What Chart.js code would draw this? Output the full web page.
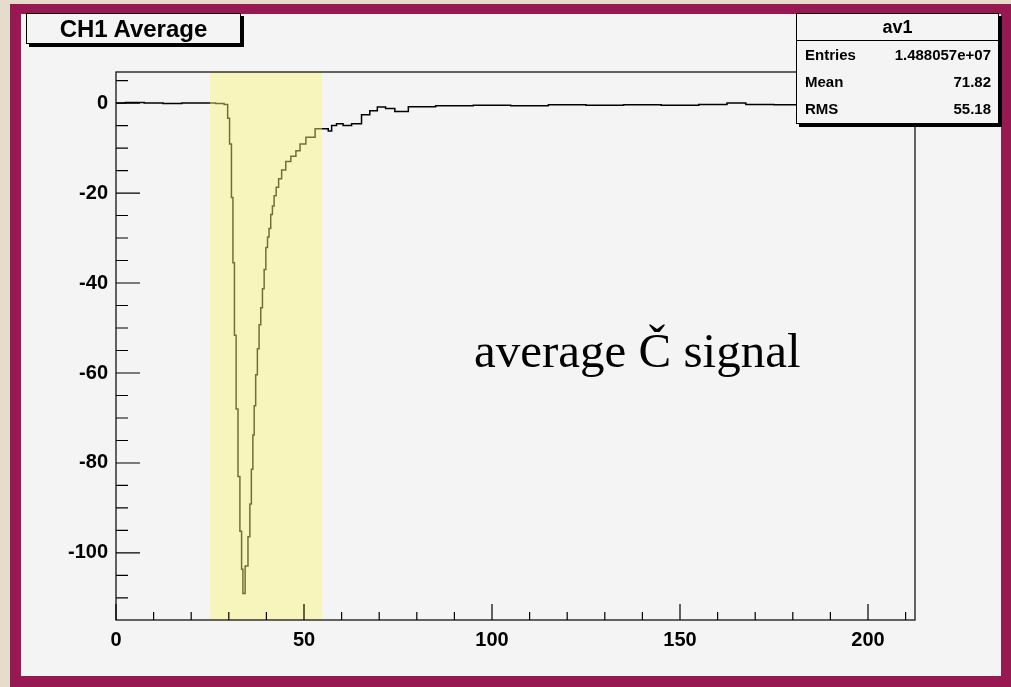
<!DOCTYPE html>
<html>
<head>
<meta charset="utf-8">
<script src="https://cdn.jsdelivr.net/npm/chart.js@4.4.1/dist/chart.umd.min.js"></script>
<style>
  html, body { margin: 0; padding: 0; }
  body { width: 1011px; height: 687px; position: relative; overflow: hidden;
         background: #e6dccb; font-family: "Liberation Sans", Arial, sans-serif; }
  #frame { position: absolute; left: 10px; top: 4px; width: 1001px; height: 683px; background: #981852; }
  #pad { position: absolute; left: 21px; top: 14px; width: 980px; height: 662px; background: #f4f4f4; }
  #wrap { position: absolute; left: 0; top: 0; width: 1011px; height: 687px; }
  .box { position: absolute; background: #f4f4f4; border: 1px solid #000; box-shadow: 3px 3px 0 #000; }
  #title { left: 26px; top: 13px; width: 213px; height: 29px; font-weight: bold; font-size: 24px;
           line-height: 29px; text-align: center; }
  #stats { left: 796px; top: 13px; width: 201px; height: 109px; font-weight: bold; font-size: 15px; }
  #stats .hd { height: 26px; line-height: 26px; text-align: center; font-size: 18px; border-bottom: 1px solid #000; }
  #stats .row { height: 27px; line-height: 27px; padding: 0 7px 0 8px; display: flex; justify-content: space-between; }
  #note { position: absolute; left: 474px; top: 322px; font-family: "Liberation Serif", serif; font-size: 49px; }
</style>
</head>
<body>
<div id="frame"></div>
<div id="pad"></div>
<div id="wrap"><canvas id="c" width="1011" height="687"></canvas></div>
<div class="box" id="title">CH1 Average</div>
<div class="box" id="stats">
  <div class="hd">av1</div>
  <div class="row"><span>Entries</span><span>1.488057e+07</span></div>
  <div class="row"><span>Mean</span><span>71.82</span></div>
  <div class="row"><span>RMS</span><span>55.18</span></div>
</div>
<div id="note">average Č signal</div>
<script>
// signal (x in time bins, y in ADC counts)
const xs = [0, 5, 10, 15, 20, 25, 28, 29.5, 29.9, 30.5, 30.9, 31.3, 31.7, 32.2, 32.7, 33.2, 33.6, 33.9,
  34.8, 35.4, 35.8, 36.2, 36.6, 36.9, 37.4, 37.8, 38.3, 38.7, 39.2, 39.6, 40.1, 40.5, 40.9, 41.4, 41.8,
  42.3, 42.9, 43.6, 44.5, 45.8, 47.2, 48.5, 49.4, 51.6, 54.3, 56.0, 56.9, 57.8, 59.5, 61.3, 64.0, 66.6,
  68.4, 70.6, 72.8, 75.5, 80, 90, 100, 110, 120, 130, 140, 150, 160, 165, 170, 180, 190, 200, 212];
const ys = [0, 0.1, 0, -0.1, 0, 0, -0.1, -0.3, -3.4, -9.1, -21, -35.5, -51.6, -68, -83, -95.2, -103.6, -109,
  -102.9, -96.4, -89.1, -81.4, -73.8, -67.3, -60.4, -54.6, -49.3, -45.5, -41.3, -37, -32.1, -29.8, -27.9, -24.8, -22.9,
  -20.6, -18.7, -16.8, -14.9, -13, -11.8, -10.6, -9.1, -7.6, -5.7, -5.7, -6.2, -5, -4.6, -5, -4.6, -2.6,
  -1.7, -0.9, -1.2, -1.9, -0.8, -0.6, -0.5, -0.6, -0.4, -0.5, -0.4, -0.5, -0.3, 0, -0.3, -0.4, -0.2, -0.1, 0];
const band = [25, 54.8];
const xTicks = [0, 50, 100, 150, 200];
const yTicks = [0, -20, -40, -60, -80, -100];

const points = xs.map((x, i) => ({ x: x, y: ys[i] }));

const rootStyle = {
  id: 'rootStyle',
  afterDatasetsDraw(chart) {
    const { ctx, chartArea: a, scales: { x, y } } = chart;
    ctx.save();
    // highlight band, drawn over the trace like the reference
    ctx.fillStyle = 'rgba(250,243,120,0.45)';
    const b0 = x.getPixelForValue(band[0]), b1 = x.getPixelForValue(band[1]);
    ctx.fillRect(b0, a.top, b1 - b0, a.bottom - a.top);
    ctx.strokeStyle = '#000';
    ctx.lineWidth = 1.2;
    ctx.strokeRect(a.left, a.top, a.right - a.left, a.bottom - a.top);
    ctx.beginPath();
    for (let v = 0; v <= 210; v += 10) {
      const px = x.getPixelForValue(v);
      const len = v % 50 === 0 ? 16 : 8;
      ctx.moveTo(px, a.bottom); ctx.lineTo(px, a.bottom - len);
    }
    for (let v = 5; v >= -110; v -= 5) {
      const py = y.getPixelForValue(v);
      const len = v % 20 === 0 ? 24 : 12;
      ctx.moveTo(a.left, py); ctx.lineTo(a.left + len, py);
    }
    ctx.stroke();
    ctx.restore();
  }
};

new Chart(document.getElementById('c'), {
  type: 'line',
  data: {
    datasets: [{
      data: points,
      borderColor: '#000',
      borderWidth: 1.5,
      pointRadius: 0,
      stepped: 'middle',
      fill: false
    }]
  },
  options: {
    responsive: false,
    animation: false,
    layout: { padding: { left: 0, top: 72, right: 96, bottom: 0 } },
    plugins: { legend: { display: false }, tooltip: { enabled: false } },
    scales: {
      x: {
        type: 'linear', min: 0, max: 212.5,
        afterBuildTicks: s => { s.ticks = xTicks.map(v => ({ value: v })); },
        afterFit: s => { s.height = 67; },
        grid: { display: false, drawTicks: false },
        border: { display: false },
        ticks: { color: '#000', padding: 8, font: { family: 'Liberation Sans', size: 20, weight: 'bold' } }
      },
      y: {
        min: -114.9, max: 6.9,
        afterBuildTicks: s => { s.ticks = yTicks.map(v => ({ value: v })); },
        afterFit: s => { s.width = 116; },
        grid: { display: false, drawTicks: false },
        border: { display: false },
        ticks: { color: '#000', padding: 8, font: { family: 'Liberation Sans', size: 20, weight: 'bold' } }
      }
    }
  },
  plugins: [rootStyle]
});
</script>
</body>
</html>
